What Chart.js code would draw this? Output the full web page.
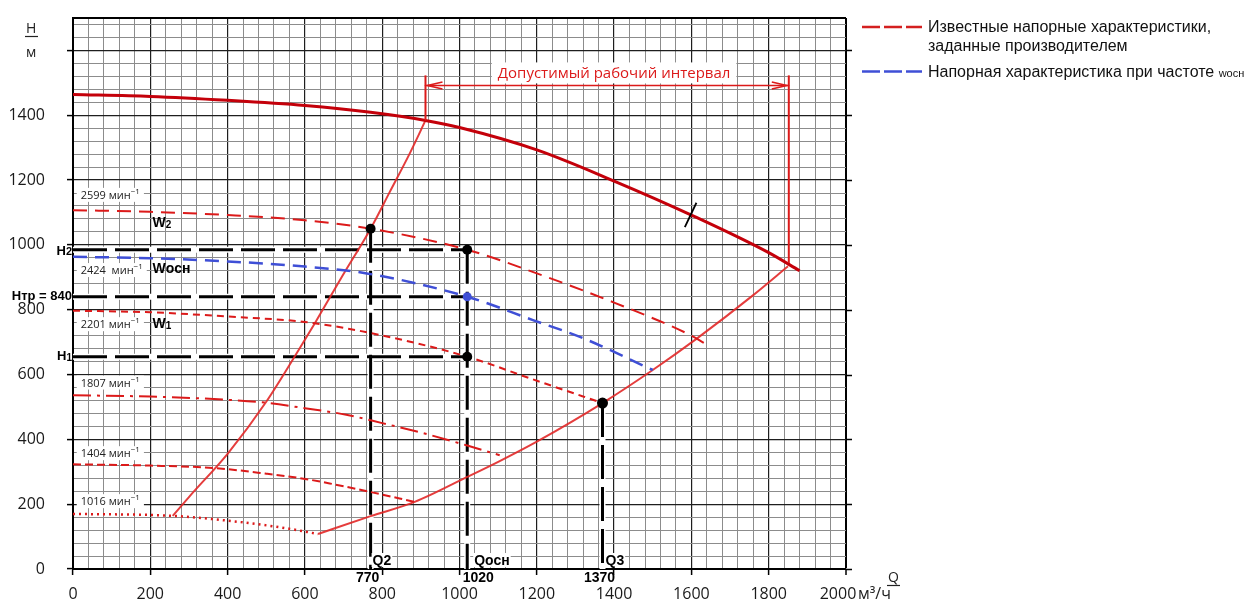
<!DOCTYPE html>
<html>
<head>
<meta charset="utf-8">
<script src="https://cdn.jsdelivr.net/npm/chart.js@4.4.1/dist/chart.umd.min.js"></script>
<style>
  html, body { margin: 0; padding: 0; background: #fff; }
  canvas { display: block; }
</style>
</head>
<body>
<canvas id="pump" width="1246" height="602"></canvas>
<script>
// ---- Axis ticks ----
const X_TICK_LABELS = [0, 200, 400, 600, 800, 1000, 1200, 1400, 1600, 1800, 2000];
const Y_TICK_LABELS = [0, 200, 400, 600, 800, 1000, 1200, 1400];

// ---- Pump head curve at maximum speed (Q, m3/h ; H, m) ----
const Q_TOP = [0, 200, 400, 600, 770, 912, 1000, 1200, 1400, 1600, 1800, 1880];
const H_TOP = [1464, 1458, 1446, 1430, 1409, 1384, 1362, 1293, 1197, 1092, 976, 920];

// ---- Head curves at fixed speeds, rpm ----
const SPEEDS = [2599, 2424, 2201, 1807, 1404, 1016];

const Q_2599 = [0, 200, 400, 600, 770, 1020, 1200, 1400, 1600, 1632];
const H_2599 = [1107, 1102, 1092, 1076, 1050, 985, 912, 822, 720, 698];

const Q_2424 = [0, 200, 400, 600, 760, 1020, 1190, 1320, 1500];
const H_2424 = [963, 959, 949, 933, 912, 840, 768, 712, 614];

const Q_2201 = [0, 200, 400, 600, 770, 1020, 1190, 1370];
const H_2201 = [797, 792, 779, 762, 728, 655, 585, 512];

const Q_1807 = [0, 200, 400, 500, 600, 707, 800, 900, 1020, 1104];
const H_1807 = [536, 532, 522, 513, 496, 476, 450, 421, 381, 351];

const Q_1404 = [0, 200, 371, 500, 600, 664, 768, 884];
const H_1404 = [323, 319, 311, 294, 278, 264, 238, 207];

const Q_1016 = [0, 258, 401, 550, 634];
const H_1016 = [170, 164, 149, 126, 108];

// ---- System (pipeline) curves ----
const Q_SYS_LEFT = [258, 300, 401, 500, 587, 625, 698, 770, 819, 872, 912];
const H_SYS_LEFT = [164, 222, 357, 516, 682, 757, 906, 1050, 1162, 1284, 1384];

const Q_SYS_RIGHT = [634, 770, 884, 1020, 1104, 1200, 1370, 1500, 1613, 1760, 1850];
const H_SYS_RIGHT = [108, 163, 207, 284, 333, 393, 512, 614, 710, 845, 934];

// ---- Operating points ----
const Q2 = 770, Q_OSN = 1020, Q3 = 1370;
const H_TR = 840, H2 = 985, H1 = 655;
const H_AT_Q2 = 1050, H_AT_Q3 = 512;

// ---- Allowed operating interval ----
const INTERVAL_Q = [912, 1852];
const INTERVAL_TOP_H = 1523;
const INTERVAL_BOTTOM_H = [1384, 944];
const INTERVAL_ARROW_H = 1492;

// ---- Marker stroke on the maximum-speed curve ----
const SLASH_Q = [1583, 1613];
const SLASH_H = [1055, 1130];

// ---------------------------------------------------------------
const pts = (qs, hs) => qs.map((q, i) => ({ x: q, y: hs[i] }));

function curve(qs, hs, style, order) {
  return Object.assign({
    data: pts(qs, hs), showLine: true, pointRadius: 0, pointHoverRadius: 0,
    fill: false, borderWidth: 2, cubicInterpolationMode: 'monotone',
    borderCapStyle: 'butt', order: order
  }, style);
}
function segment(p1, p2, style, order) {
  return Object.assign({
    data: [p1, p2], showLine: true, pointRadius: 0, pointHoverRadius: 0,
    fill: false, borderWidth: 2, tension: 0, borderCapStyle: 'butt', order: order
  }, style);
}

const RED = '#dc1a1a';
const refLines = [
  [{ x: 0, y: H2 }, { x: Q_OSN, y: H2 }],
  [{ x: 0, y: H_TR }, { x: Q_OSN, y: H_TR }],
  [{ x: 0, y: H1 }, { x: Q_OSN, y: H1 }],
  [{ x: Q2, y: H_AT_Q2 }, { x: Q2, y: 0 }],
  [{ x: Q_OSN, y: H2 }, { x: Q_OSN, y: 0 }],
  [{ x: Q3, y: H_AT_Q3 }, { x: Q3, y: 0 }]
];

const datasets = [];
refLines.forEach(l => datasets.push(segment(l[0], l[1], { borderColor: '#ffffff', borderWidth: 6 }, 30)));
refLines.forEach(l => datasets.push(segment(l[0], l[1], { borderColor: '#000000', borderWidth: 3, borderDash: [34, 8] }, 25)));

datasets.push(curve(Q_SYS_LEFT, H_SYS_LEFT, { borderColor: 'rgba(226,40,40,0.9)', borderWidth: 2 }, 20));
datasets.push(curve(Q_SYS_RIGHT, H_SYS_RIGHT, { borderColor: 'rgba(226,40,40,0.9)', borderWidth: 2 }, 20));

datasets.push(curve(Q_2599, H_2599, { borderColor: RED, borderWidth: 2, borderDash: [14, 8] }, 15));
datasets.push(curve(Q_2424, H_2424, { borderColor: '#3f4fd6', borderWidth: 2.5, borderDash: [14, 8] }, 15));
datasets.push(curve(Q_2201, H_2201, { borderColor: RED, borderWidth: 2, borderDash: [7, 5] }, 15));
datasets.push(curve(Q_1807, H_1807, { borderColor: RED, borderWidth: 2, borderDash: [18, 6, 3, 6] }, 15));
datasets.push(curve(Q_1404, H_1404, { borderColor: RED, borderWidth: 2, borderDash: [8, 4] }, 15));
datasets.push(curve(Q_1016, H_1016, { borderColor: RED, borderWidth: 2.5, borderDash: [2, 4] }, 15));

datasets.push(curve(Q_TOP, H_TOP, { borderColor: '#c4000a', borderWidth: 3 }, 10));

datasets.push(segment({ x: INTERVAL_Q[0], y: INTERVAL_BOTTOM_H[0] }, { x: INTERVAL_Q[0], y: INTERVAL_TOP_H }, { borderColor: RED, borderWidth: 2 }, 9));
datasets.push(segment({ x: INTERVAL_Q[1], y: INTERVAL_BOTTOM_H[1] }, { x: INTERVAL_Q[1], y: INTERVAL_TOP_H }, { borderColor: RED, borderWidth: 2 }, 9));
datasets.push(segment({ x: INTERVAL_Q[0], y: INTERVAL_ARROW_H }, { x: INTERVAL_Q[1], y: INTERVAL_ARROW_H }, { borderColor: RED, borderWidth: 1.5 }, 9));

datasets.push(segment({ x: SLASH_Q[0], y: SLASH_H[0] }, { x: SLASH_Q[1], y: SLASH_H[1] }, { borderColor: '#000', borderWidth: 1.8 }, 8));

datasets.push({
  data: [{ x: Q2, y: H_AT_Q2 }, { x: Q_OSN, y: H2 }, { x: Q_OSN, y: H1 }],
  showLine: false, pointRadius: 5, pointHoverRadius: 5, backgroundColor: '#000', borderWidth: 0, order: 1
});
datasets.push({
  data: [{ x: Q3, y: H_AT_Q3 }],
  showLine: false, pointRadius: 5.5, pointHoverRadius: 5.5, backgroundColor: '#000', borderWidth: 0, order: 1
});
datasets.push({
  data: [{ x: Q_OSN, y: H_TR }],
  showLine: false, pointRadius: 4.5, pointHoverRadius: 4.5, backgroundColor: '#3f4fd6', borderWidth: 0, order: 1
});

// ---- text helper: a run of differently styled parts on one baseline ----
function rich(ctx, parts, x, y, align, color, bg) {
  ctx.save();
  ctx.textBaseline = 'alphabetic';
  ctx.textAlign = 'left';
  let w = 0;
  parts.forEach(p => { ctx.font = p.f; p.w = ctx.measureText(p.t).width; w += p.w; });
  let x0 = align === 'center' ? x - w / 2 : (align === 'right' ? x - w : x);
  if (bg) {
    ctx.fillStyle = '#ffffff';
    ctx.fillRect(x0 - bg[0], y - bg[1], w + 2 * bg[0], bg[1] + bg[2]);
  }
  ctx.fillStyle = color;
  parts.forEach(p => { ctx.font = p.f; ctx.fillText(p.t, x0, y + (p.dy || 0)); x0 += p.w; });
  ctx.restore();
  return w;
}

const F_SMALL = '11px "Open Sans"';
const F_SUP = '8px "Open Sans"';
const F_B14 = 'bold 14px "Liberation Sans"';
const F_B13 = 'bold 13px "Liberation Sans"';
const F_B10 = 'bold 10px "Liberation Sans"';

const decor = {
  id: 'decor',
  afterDraw(chart) {
    const { ctx, scales: { x, y }, chartArea: a } = chart;
    const px = v => x.getPixelForValue(v);
    const py = v => y.getPixelForValue(v);

    // right-hand axis ticks
    ctx.save();
    ctx.strokeStyle = '#000';
    ctx.lineWidth = 1.5;
    Y_TICK_LABELS.concat([1600]).forEach(v => {
      const yy = Math.round(py(v)) + 0.5;
      ctx.beginPath(); ctx.moveTo(a.right, yy); ctx.lineTo(a.right + 6, yy); ctx.stroke();
    });
    ctx.restore();

    // last x label followed by the flow unit
    rich(ctx, [{ t: String(X_TICK_LABELS[X_TICK_LABELS.length - 1]), f: '16px "Open Sans"' }], px(2000) - 8, a.bottom + 30, 'center', '#1a1a1a');

    // arrow heads of the operating interval
    ctx.save();
    ctx.strokeStyle = RED;
    ctx.lineWidth = 1.6;
    const ya = py(INTERVAL_ARROW_H);
    const xl = px(INTERVAL_Q[0]) + 2, xr = px(INTERVAL_Q[1]) - 2;
    ctx.beginPath();
    ctx.moveTo(xl + 15, ya - 3.5); ctx.lineTo(xl, ya); ctx.lineTo(xl + 15, ya + 3.5);
    ctx.moveTo(xr - 15, ya - 3.5); ctx.lineTo(xr, ya); ctx.lineTo(xr - 15, ya + 3.5);
    ctx.stroke();
    ctx.restore();
    rich(ctx, [{ t: 'Допустимый рабочий интервал', f: '15px "Open Sans"' }],
      px(1400), py(INTERVAL_ARROW_H) - 7, 'center', RED, [6, 16, 5]);

    // speed labels
    const speedLabelH = [1142, 910, 743, 563, 345, 197];
    SPEEDS.forEach((s, i) => {
      const gap = s === 2424 ? '  ' : ' ';
      rich(ctx, [{ t: s + gap + 'мин', f: F_SMALL }, { t: '−1', f: F_SUP, dy: -5 }],
        px(20), py(speedLabelH[i]), 'left', '#222', [4, 11, 3]);
    });

    // speed markers
    rich(ctx, [{ t: 'W', f: F_B14 }, { t: '2', f: F_B10, dy: 1 }], px(206), py(1056), 'left', '#000');
    rich(ctx, [{ t: 'Wосн', f: F_B14 }], px(206), py(913), 'left', '#000');
    rich(ctx, [{ t: 'W', f: F_B14 }, { t: '1', f: F_B10, dy: 1 }], px(206), py(743), 'left', '#000');

    // head labels at the left axis
    rich(ctx, [{ t: 'H', f: F_B13 }, { t: '2', f: 'bold 11px "Liberation Sans"' }], a.left - 1, py(H2) + 5, 'right', '#000');
    rich(ctx, [{ t: 'Нтр = ' + H_TR, f: F_B13 }], a.left - 1, py(H_TR) + 3, 'right', '#000');
    rich(ctx, [{ t: 'H', f: F_B13 }, { t: '1', f: 'bold 10px "Liberation Sans"', dy: 1 }], a.left - 1, py(H1) + 3, 'right', '#000');

    // flow labels
    rich(ctx, [{ t: 'Q2', f: F_B14 }], px(Q2) + 2, a.bottom - 4, 'left', '#000', [1, 12, 2]);
    rich(ctx, [{ t: 'Qосн', f: F_B14 }], px(Q_OSN) + 7, a.bottom - 4, 'left', '#000', [1, 12, 2]);
    rich(ctx, [{ t: 'Q3', f: F_B14 }], px(Q3) + 3, a.bottom - 4, 'left', '#000', [1, 12, 2]);
    rich(ctx, [{ t: String(Q2), f: F_B14 }], px(Q2) - 3, a.bottom + 13, 'center', '#000');
    rich(ctx, [{ t: String(Q_OSN), f: F_B14 }], px(Q_OSN) + 11, a.bottom + 13, 'center', '#000');
    rich(ctx, [{ t: String(Q3), f: F_B14 }], px(Q3) - 3, a.bottom + 13, 'center', '#000');

    // axis titles
    ctx.save();
    ctx.strokeStyle = '#222'; ctx.lineWidth = 1.2;
    rich(ctx, [{ t: 'Н', f: '14px "Open Sans"' }], 26, 33, 'left', '#222');
    ctx.beginPath(); ctx.moveTo(25, 36.5); ctx.lineTo(38, 36.5); ctx.stroke();
    rich(ctx, [{ t: 'м', f: '14px "Open Sans"' }], 26, 57, 'left', '#222');
    rich(ctx, [{ t: 'Q', f: '14px "Open Sans"' }], 888, 582, 'left', '#222');
    ctx.beginPath(); ctx.moveTo(887, 585.5); ctx.lineTo(900, 585.5); ctx.stroke();
    rich(ctx, [{ t: 'м³/ч', f: '16px "Open Sans"' }], 858, a.bottom + 30, 'left', '#222');
    ctx.restore();

    // legend
    ctx.save();
    ctx.lineWidth = 2.5;
    ctx.setLineDash([18, 4]);
    ctx.strokeStyle = '#d42020';
    ctx.beginPath(); ctx.moveTo(862, 27); ctx.lineTo(922, 27); ctx.stroke();
    ctx.strokeStyle = '#3f4fd6';
    ctx.beginPath(); ctx.moveTo(862, 71.5); ctx.lineTo(922, 71.5); ctx.stroke();
    ctx.restore();
    const F_LEG = '16px "Liberation Sans"';
    rich(ctx, [{ t: 'Известные напорные характеристики,', f: F_LEG }], 928, 32, 'left', '#111');
    rich(ctx, [{ t: 'заданные производителем', f: F_LEG }], 928, 51, 'left', '#111');
    rich(ctx, [{ t: 'Напорная характеристика при частоте ', f: F_LEG }, { t: 'wосн', f: '11px "Liberation Sans"' }], 928, 77, 'left', '#111');
  }
};

const gridColor = c => {
  const v = c.tick ? c.tick.value : 0;
  return v % 200 === 0 ? '#1e1e1e' : '#8c8c8c';
};
const tickColor = c => {
  const v = c.tick ? c.tick.value : 0;
  return v % 200 === 0 ? '#000' : 'rgba(0,0,0,0)';
};

new Chart(document.getElementById('pump'), {
  type: 'scatter',
  data: { datasets },
  options: {
    responsive: false,
    animation: false,
    devicePixelRatio: 1,
    events: [],
    layout: { padding: { top: 18, right: 400, bottom: 0, left: 0 } },
    plugins: { legend: { display: false }, tooltip: { enabled: false } },
    scales: {
      x: {
        type: 'linear', min: 0, max: 2000,
        afterBuildTicks: s => { const t = []; for (let v = 0; v <= 2000; v += 40) t.push({ value: v }); s.ticks = t; },
        afterFit: s => { s.height = 33; },
        grid: {
          color: c => (c.tick && c.tick.value === 2000) ? '#000' : gridColor(c),
          lineWidth: c => (c.tick && c.tick.value === 2000) ? 2 : (c.tick && c.tick.value % 200 === 0 ? 1.2 : 1),
          tickLength: 6, tickColor: tickColor, tickWidth: 1.5
        },
        border: { color: '#000', width: 2 },
        ticks: {
          autoSkip: false, maxRotation: 0, padding: 10, color: '#1a1a1a',
          font: { family: '"Open Sans"', size: 16 },
          callback: v => (X_TICK_LABELS.includes(v) && v !== 2000) ? String(v) : ''
        }
      },
      y: {
        type: 'linear', min: 0, max: 1700,
        afterBuildTicks: s => { const t = []; for (let v = 0; v <= 1680; v += 40) t.push({ value: v }); t.push({ value: 1700 }); s.ticks = t; },
        afterFit: s => { s.width = 73; s.paddingTop = 0; s.paddingBottom = 0; },
        grid: {
          color: c => (c.tick && c.tick.value === 1700) ? '#000' : gridColor(c),
          lineWidth: c => (c.tick && c.tick.value === 1700) ? 2 : (c.tick && c.tick.value % 200 === 0 ? 1.2 : 1),
          tickLength: 6, tickColor: c => (c.tick && c.tick.value === 1700) ? 'rgba(0,0,0,0)' : tickColor(c), tickWidth: 1.5
        },
        border: { color: '#000', width: 2 },
        ticks: {
          autoSkip: false, padding: 22, color: '#1a1a1a',
          font: { family: '"Open Sans"', size: 16 },
          callback: v => Y_TICK_LABELS.includes(v) ? String(v) : ''
        }
      }
    }
  },
  plugins: [decor]
});
</script>
</body>
</html>
